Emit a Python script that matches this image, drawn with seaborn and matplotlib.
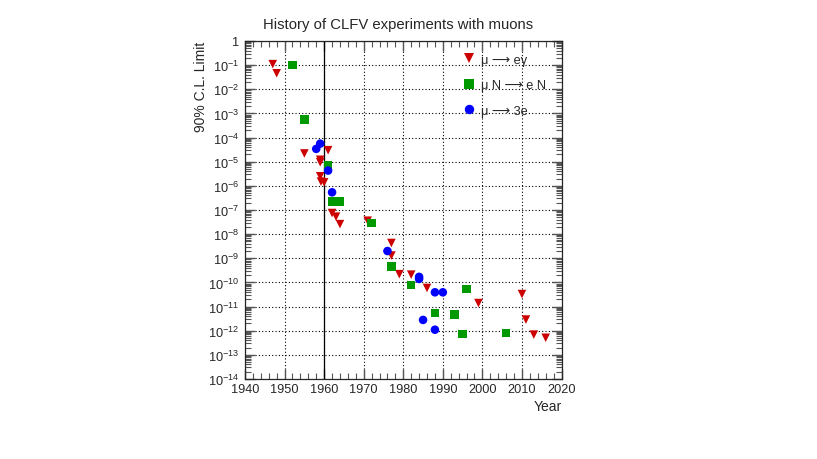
import numpy as np
import pandas as pd
import matplotlib
matplotlib.use('Agg')
import matplotlib.pyplot as plt
import seaborn as sns

# mu -> e gamma
meg_year = [1947, 1948, 1955, 1959, 1959, 1959, 1959.2, 1960, 1961, 1962, 1963, 1964,
            1971, 1977, 1977, 1979, 1982, 1986, 1999, 2010, 2011, 2013, 2016]
meg_limit = [1.1e-1, 4.6e-2, 2.2e-5, 1.2e-5, 9.5e-6, 2.5e-6, 1.5e-6, 1.4e-6, 3.0e-5,
             7.5e-8, 5.3e-8, 2.6e-8, 3.6e-8, 4.3e-9, 1.3e-9, 2.2e-10, 2.1e-10, 5.9e-11,
             1.4e-11, 3.3e-11, 2.9e-12, 6.9e-13, 5.1e-13]

# mu N -> e N
mec_year = [1952, 1955, 1961, 1962, 1964, 1972, 1977, 1982, 1988, 1993, 1995, 1996, 2006]
mec_limit = [1.0e-1, 5.5e-4, 7.0e-6, 2.3e-7, 2.3e-7, 2.9e-8, 4.5e-10, 7.8e-11, 5.4e-12,
             4.8e-12, 7.3e-13, 5.4e-11, 8.0e-13]

# mu -> 3e
m3e_year = [1958, 1959, 1961, 1962, 1976, 1984, 1984, 1985, 1988, 1988, 1990]
m3e_limit = [3.4e-5, 5.6e-5, 4.3e-6, 5.4e-7, 2.0e-9, 1.7e-10, 1.4e-10, 2.8e-12, 3.9e-11,
             1.1e-12, 3.9e-11]

labels = ['\u03bc \u27f6 e\u03b3', '\u03bc N \u27f6 e N', '\u03bc \u27f6 3e']
colors = ['#cc0000', '#009900', '#0000ff']
markers = ['v', 's', 'o']

ylabels = ['1'] + [f'$10^{{{-k}}}$' for k in range(1, 15)]

df = pd.DataFrame({
    'year': meg_year + mec_year + m3e_year,
    'limit': meg_limit + mec_limit + m3e_limit,
    'process': [labels[0]] * len(meg_year) + [labels[1]] * len(mec_year)
               + [labels[2]] * len(m3e_year),
})

sns.set_style('ticks')
plt.rcParams['font.family'] = ['Liberation Sans', 'DejaVu Sans']
plt.rcParams['mathtext.fontset'] = 'custom'
plt.rcParams['mathtext.rm'] = 'Liberation Sans'
plt.rcParams['mathtext.it'] = 'Liberation Sans'

fig = plt.figure(figsize=(8.17, 4.6), dpi=100)
ax = fig.add_axes([0.2999, 0.1739, 0.3874, 0.7348])

ax.set_yscale('log')
ax.set_xlim(1940, 2020)
ax.set_ylim(1e-14, 1)

# dotted grid
ax.grid(True, which='major', color='black', linestyle=(0, (1, 2)), linewidth=0.8)
ax.axvline(1960, color='black', linewidth=0.9, zorder=1)

sns.scatterplot(data=df, x='year', y='limit', hue='process', style='process',
                palette=dict(zip(labels, colors)), markers=dict(zip(labels, markers)),
                s=38, linewidth=0, ax=ax, zorder=3)

ax.set_xticks(np.arange(1940, 2021, 10))
ax.set_xticks(np.arange(1940, 2021, 2), minor=True)
ax.set_yticks([10.0 ** -k for k in range(15)])
ax.set_yticklabels(ylabels)
ax.yaxis.set_minor_locator(matplotlib.ticker.LogLocator(base=10, subs=np.arange(2, 10), numticks=100))
ax.yaxis.set_minor_formatter(matplotlib.ticker.NullFormatter())
ax.tick_params(which='both', direction='in', top=True, right=True, labelsize=9.2,
               color='#555555')
ax.tick_params(axis='x', pad=3)
ax.tick_params(axis='y', pad=4)
ax.tick_params(which='major', length=7, width=1.0)
ax.tick_params(which='minor', length=4, width=0.8)
for sp in ax.spines.values():
    sp.set_linewidth(0.9)

ax.set_xlabel('Year', fontsize=10, loc='right', labelpad=3)
ax.set_ylabel('90% C.L. Limit', fontsize=10, loc='top', labelpad=0.5)

leg = ax.legend(loc='upper right', bbox_to_anchor=(0.975, 0.985), frameon=False,
                prop={'size': 9.2}, handlelength=0.8,
                handletextpad=0.5, labelspacing=1.05, borderaxespad=0.2, markerscale=1.1)

fig.suptitle('History of CLFV experiments with muons', fontsize=10.7, x=0.487, y=0.96)

fig.savefig('out.png', dpi=100)
